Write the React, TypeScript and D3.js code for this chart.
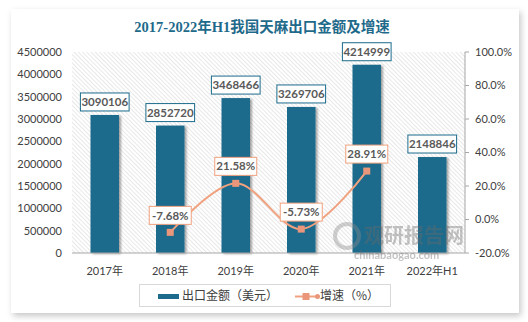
import React from "react";
import * as d3 from "d3";

const years = ["2017年", "2018年", "2019年", "2020年", "2021年", "2022年H1"];
const amounts = [3090106, 2852720, 3468466, 3269706, 4214999, 2148846];
const growth: (number | null)[] = [null, -7.68, 21.58, -5.73, 28.91, null];
const leftTicks = [0, 500000, 1000000, 1500000, 2000000, 2500000, 3000000, 3500000, 4000000, 4500000];
const rightTicks = [-20, 0, 20, 40, 60, 80, 100];

const W = 528, H = 322;
const X0 = 72, X1 = 465, Y0 = 253, Y1 = 52;
const BAR = "#1c6b8c";
const LINE = "#f0a17e";
const MARK = "#e9967a";
const TXT = "#404040";
const NUMF = "Lato, 'Open Sans', sans-serif";
const CJK = "'Noto Sans CJK SC', sans-serif";

export default function App() {
  const x = d3.scaleBand<string>().domain(years).range([X0, X1]).paddingInner(0.565).paddingOuter(0.2825);
  const yL = d3.scaleLinear().domain([0, 4500000]).range([Y0, Y1]);
  const yR = d3.scaleLinear().domain([-20, 100]).range([Y0, Y1]);
  const cx = (c: string) => (x(c) as number) + x.bandwidth() / 2;

  const pts = years
    .map((c, i) => ({ c, v: growth[i] }))
    .filter((d) => d.v !== null) as { c: string; v: number }[];
  const line = d3
    .line<{ c: string; v: number }>()
    .x((d) => cx(d.c))
    .y((d) => yR(d.v))
    .curve(d3.curveCatmullRom.alpha(0.5));

  const textW = (s: string) => s.length * 6.1 + 6;

  return (
    <svg width={W} height={H} style={{ position: "absolute", left: 0, top: 0 }}>
      <defs>
        <filter id="cardShadow" x="-5%" y="-5%" width="110%" height="112%">
          <feDropShadow dx="2" dy="3" stdDeviation="3" floodColor="#000" floodOpacity="0.22" />
        </filter>
        <filter id="barShadow" x="-30%" y="-10%" width="160%" height="120%">
          <feDropShadow dx="2" dy="1" stdDeviation="1.2" floodColor="#000" floodOpacity="0.35" />
        </filter>
        <pattern id="hatch" width="3" height="3" patternUnits="userSpaceOnUse" patternTransform="rotate(-45)">
          <line x1="0" y1="0" x2="0" y2="3" stroke="#d2d2d2" strokeWidth="1" />
        </pattern>
      </defs>
      <rect x={0} y={0} width={W} height={H} fill="#ffffff" />
      <rect x={11} y={9} width={508} height={304} fill="#ffffff" filter="url(#cardShadow)" />

      <text x={262} y={32} textAnchor="middle" fontFamily="'Liberation Serif', 'Noto Sans CJK SC', serif" fontWeight="bold" fontSize={14.5} fill="#1f6a8a">
        2017-2022年H1我国天麻出口金额及增速
      </text>

      <rect x={X0} y={Y1} width={X1 - X0} height={Y0 - Y1} fill="url(#hatch)" />

      {/* left ticks */}
      {leftTicks.map((t) => (
        <text key={t} x={62} y={yL(t)} dy="0.35em" textAnchor="end" fontFamily={NUMF} fontSize={11} fill={TXT}>
          {t}
        </text>
      ))}
      {/* right axis */}
      <line x1={X1} y1={Y1} x2={X1} y2={Y0} stroke="#a6a6a6" />
      {rightTicks.map((t) => (
        <g key={t}>
          <line x1={X1} x2={X1 + 4} y1={yR(t)} y2={yR(t)} stroke="#a6a6a6" />
          <text x={475} y={yR(t)} dy="0.35em" fontFamily={NUMF} fontSize={11} fill={TXT}>
            {t.toFixed(1)}%
          </text>
        </g>
      ))}

      {/* bars */}
      {years.map((c, i) => (
        <rect key={c} x={x(c)} y={yL(amounts[i])} width={x.bandwidth()} height={Y0 - yL(amounts[i])} fill={BAR} filter="url(#barShadow)" />
      ))}
      <line x1={X0} y1={Y0} x2={X1} y2={Y0} stroke="#a6a6a6" />

      {/* watermark */}
      <g opacity={0.4}>
        <circle cx={347} cy={236} r={12} fill="none" stroke="#8a8a8a" strokeWidth={4} />
        <text x={364} y={243} fontFamily={CJK} fontWeight="bold" fontSize={20} fill="#6a6a6a">观研报告网</text>
        <text x={354} y={259} fontFamily={NUMF} fontWeight="bold" fontSize={11} fill="#6a6a6a">chinabaogao.com</text>
      </g>

      {/* category labels */}
      {years.map((c) => (
        <text key={c} x={cx(c)} y={271} dy="0.35em" textAnchor="middle" fontFamily={NUMF + ", " + CJK} fontSize={11} fill={TXT}>
          {c}
        </text>
      ))}

      {/* line */}
      <path d={line(pts) || ""} fill="none" stroke={LINE} strokeWidth={2} />
      {pts.map((d) => (
        <rect key={d.c} x={cx(d.c) - 3.5} y={yR(d.v) - 3.5} width={7} height={7} fill={MARK} />
      ))}

      {/* bar labels */}
      {years.map((c, i) => {
        const s = String(amounts[i]);
        const w = textW(s);
        const top = yL(amounts[i]) - 4 - 18;
        return (
          <g key={c}>
            <rect x={cx(c) - w / 2} y={top} width={w} height={18} fill="#fff" stroke={BAR} strokeWidth={1} />
            <text x={cx(c)} y={top + 9} dy="0.36em" textAnchor="middle" fontFamily={NUMF} fontWeight="bold" fontSize={11.5} fill="#595959">
              {s}
            </text>
          </g>
        );
      })}

      {/* pct labels */}
      {pts.map((d) => {
        const s = d.v.toFixed(2) + "%";
        const w = 42;
        const top = yR(d.v) - 8 - 18;
        return (
          <g key={d.c}>
            <rect x={cx(d.c) - w / 2} y={top} width={w} height={18} fill="#fff" stroke={LINE} strokeWidth={1} />
            <text x={cx(d.c)} y={top + 9} dy="0.36em" textAnchor="middle" fontFamily={NUMF} fontWeight="bold" fontSize={11.5} fill="#595959">
              {s}
            </text>
          </g>
        );
      })}

      {/* legend */}
      <rect x={139.5} y={284.5} width={251} height={22} fill="#fff" stroke="#d9d9d9" />
      <rect x={158} y={294} width={21} height={5} fill={BAR} />
      <text x={182} y={296} dy="0.35em" fontFamily={CJK} fontSize={12} fill={TXT}>出口金额（美元）</text>
      <line x1={295} x2={319} y1={296.5} y2={296.5} stroke={LINE} strokeWidth={2} />
      <rect x={302.5} y={293} width={7} height={7} fill={MARK} />
      <circle cx={317.5} cy={296.5} r={2.5} fill={MARK} />
      <text x={320} y={296} dy="0.35em" fontFamily={CJK} fontSize={12} fill={TXT}>增速（%）</text>
    </svg>
  );
}
